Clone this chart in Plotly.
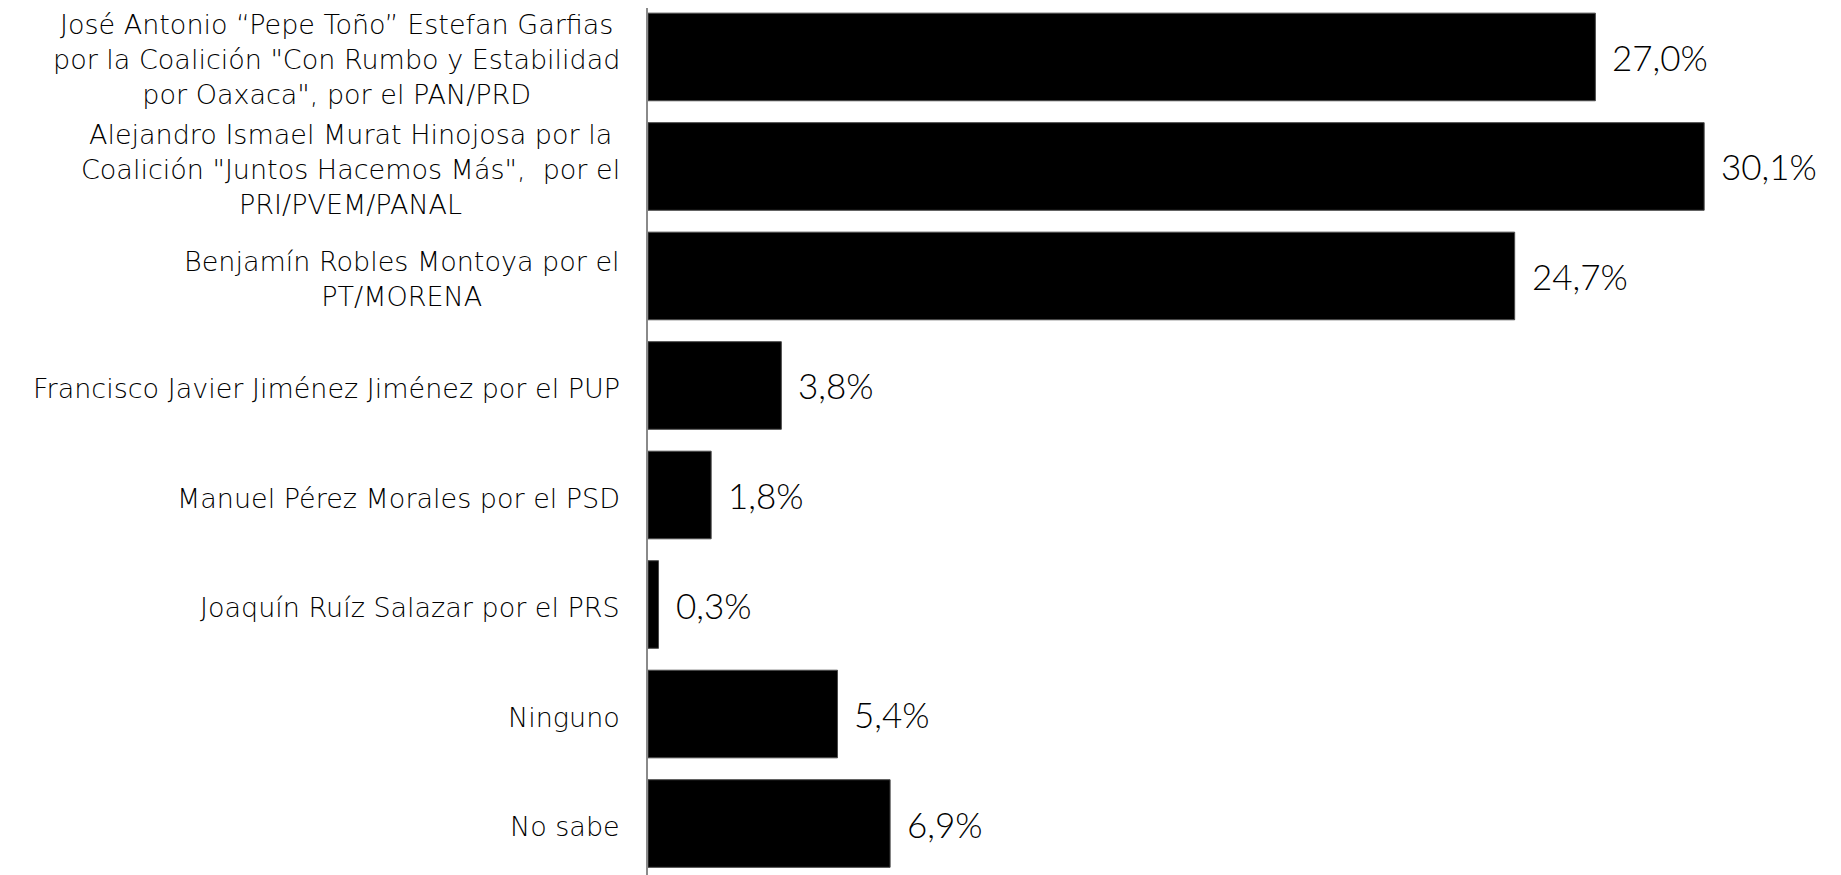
import plotly.graph_objects as go

categories = [
    "José Antonio “Pepe Toño” Estefan Garfias<br>por la Coalición \"Con Rumbo y Estabilidad<br>por Oaxaca\", por el PAN/PRD",
    "Alejandro Ismael Murat Hinojosa por la<br>Coalición \"Juntos Hacemos Más\",  por el<br>PRI/PVEM/PANAL",
    "Benjamín Robles Montoya por el<br>PT/MORENA",
    "Francisco Javier Jiménez Jiménez por el PUP",
    "Manuel Pérez Morales por el PSD",
    "Joaquín Ruíz Salazar por el PRS",
    "Ninguno",
    "No sabe",
]
values = [27.0, 30.1, 24.7, 3.8, 1.8, 0.3, 5.4, 6.9]
labels = [f"{v:.1f}".replace(".", ",") + "%" for v in values]

LABEL_FONT = "Lato"
CAT_FONT = "DejaVu Sans"

fig = go.Figure()
fig.add_trace(go.Bar(
    x=values,
    y=categories,
    orientation="h",
    marker=dict(color="#000000", line=dict(color="#4a4a4a", width=1)),
    hoverinfo="skip",
))

annotations = []
for c, v, t in zip(categories, values, labels):
    annotations.append(dict(
        x=v, y=c, xref="x", yref="y", text=t, showarrow=False,
        xanchor="left", yanchor="middle", xshift=15,
        font=dict(family=LABEL_FONT, size=35, color="#000000", weight=300),
    ))
    annotations.append(dict(
        x=0, y=c, xref="paper", yref="y", text=c, showarrow=False,
        xanchor="right", yanchor="middle", xshift=-26, yshift=-3, align="center",
        font=dict(family=CAT_FONT, size=27, color="#000000", weight=200),
    ))

fig.update_layout(
    width=1833, height=867,
    margin=dict(l=640, r=0, t=0, b=0),
    paper_bgcolor="white", plot_bgcolor="white",
    bargap=0.2,
    showlegend=False,
    annotations=annotations,
    xaxis=dict(range=[0, 34], visible=False, showgrid=False, zeroline=False),
    yaxis=dict(
        type="category",
        range=[7.47, -0.447],
        showticklabels=False, ticks="",
        showgrid=False, zeroline=False,
        showline=True, linecolor="#8a8a8a", linewidth=1.5,
    ),
)

fig.write_html("out.html")
